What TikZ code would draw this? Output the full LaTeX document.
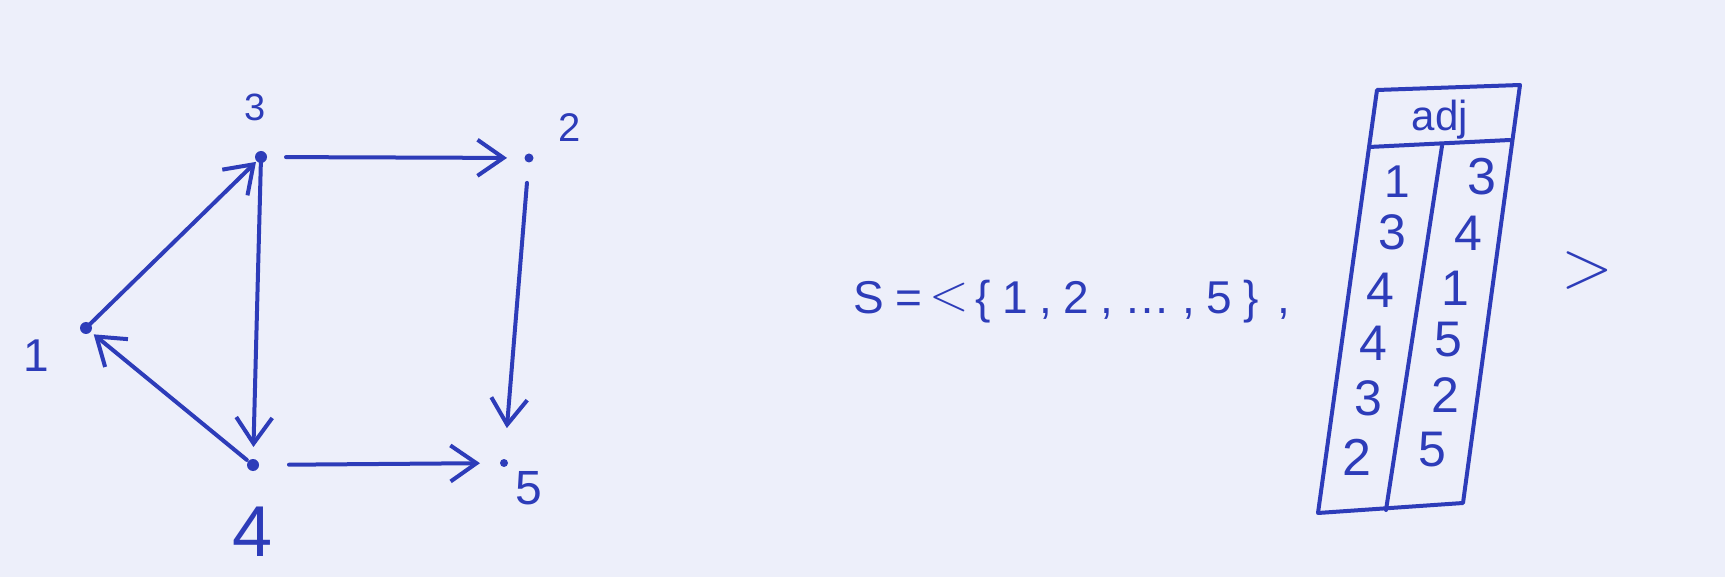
\documentclass[tikz,border=0pt]{standalone}
\usepackage{fontspec}
\setmainfont{Liberation Sans}
\newfontfamily\lmfont{Latin Modern Roman}
\usetikzlibrary{arrows.meta}
\definecolor{ink}{RGB}{45,60,185}
\definecolor{paper}{RGB}{237,239,250}
\begin{document}
\begin{tikzpicture}[x=1pt,y=-1pt, line width=4pt, line cap=round, line join=round,
  dot/.style={circle, fill=ink, draw=none, inner sep=0pt, minimum size=12pt},
  lab/.style={text=ink, inner sep=0pt, font=\fontsize{#1}{#1}\selectfont},
  edge/.style={draw=ink, -{Straight Barb[length=26pt,width=36pt]}},
  rule/.style={draw=ink}]
\fill[paper] (0,0) rectangle (1725,577);
\useasboundingbox (0,0) rectangle (1725,577);
% graph nodes
\node[dot] (n3) at (261,157) {};
\node[dot, minimum size=9pt] (n2) at (529,158) {};
\node[dot] (n1) at (86,328) {};
\node[dot] (n4) at (253,465) {};
\node[dot, minimum size=8pt] (n5) at (504,463) {};
% labels
\node[lab=38] (l3) at (255,107) {3};
\node[lab=40] (l2) at (570,128) {2};
\node[lab=46] (l1) at (36,356) {1};
\node[lab=72] (l4) at (253,532) {4};
\node[lab=48] (l5) at (529,488) {5};
% edges
\draw[edge, shorten <=25pt, shorten >=22pt] (n3.center) -- (n2.center);
\draw[edge, shorten <=25pt, shorten >=35pt] (n2.center) -- (n5.center);
\draw[edge, shorten <=36pt, shorten >=24pt] (n4.center) -- (n5.center);
\draw[edge, shorten <=5pt, shorten >=18pt] (n3.center) -- (n4.center);
\draw[edge, shorten <=8pt, shorten >=10pt] (n4.center) -- (n1.center);
\draw[edge, shorten <=6pt, shorten >=7pt] (n1.center) -- (n3.center);
% formula
\node[lab=46, anchor=base west] (f) at (851,314) {\addfontfeatures{LetterSpace=25}S=\,{\lmfont\fontsize{52}{52}\selectfont\raisebox{3pt}{<}}\hspace{6pt}\{1,2,…,5\}\hspace{18pt},};
\node[lab=68] (gt) at (1587,271) {\lmfont >};
% table
\coordinate (tl) at (1377,90);
\coordinate (tr) at (1520,85);
\coordinate (br) at (1463,503);
\coordinate (bl) at (1318,513);
\coordinate (hl) at (1369,147);
\coordinate (hr) at (1510,140);
\coordinate (ct) at (1442,146);
\coordinate (cb) at (1386,510);
\draw[rule] (tl) -- (tr) -- (br) -- (bl) -- cycle;
\draw[rule] (hl) -- (hr);
\draw[rule] (ct) -- (cb);
\node[lab=42] (adj) at (1440,120) {adj};
\node[lab=46] (a1) at (1397,182) {1};
\node[lab=50] (a2) at (1392,232) {3};
\node[lab=50] (a3) at (1380,290) {4};
\node[lab=50] (a4) at (1373,343) {4};
\node[lab=50] (a5) at (1368,398) {3};
\node[lab=52] (a6) at (1357,457) {2};
\node[lab=52] (b1) at (1482,177) {3};
\node[lab=50] (b2) at (1468,233) {4};
\node[lab=50] (b3) at (1455,288) {1};
\node[lab=50] (b4) at (1448,340) {5};
\node[lab=50] (b5) at (1445,395) {2};
\node[lab=50] (b6) at (1432,450) {5};
\end{tikzpicture}
\end{document}
